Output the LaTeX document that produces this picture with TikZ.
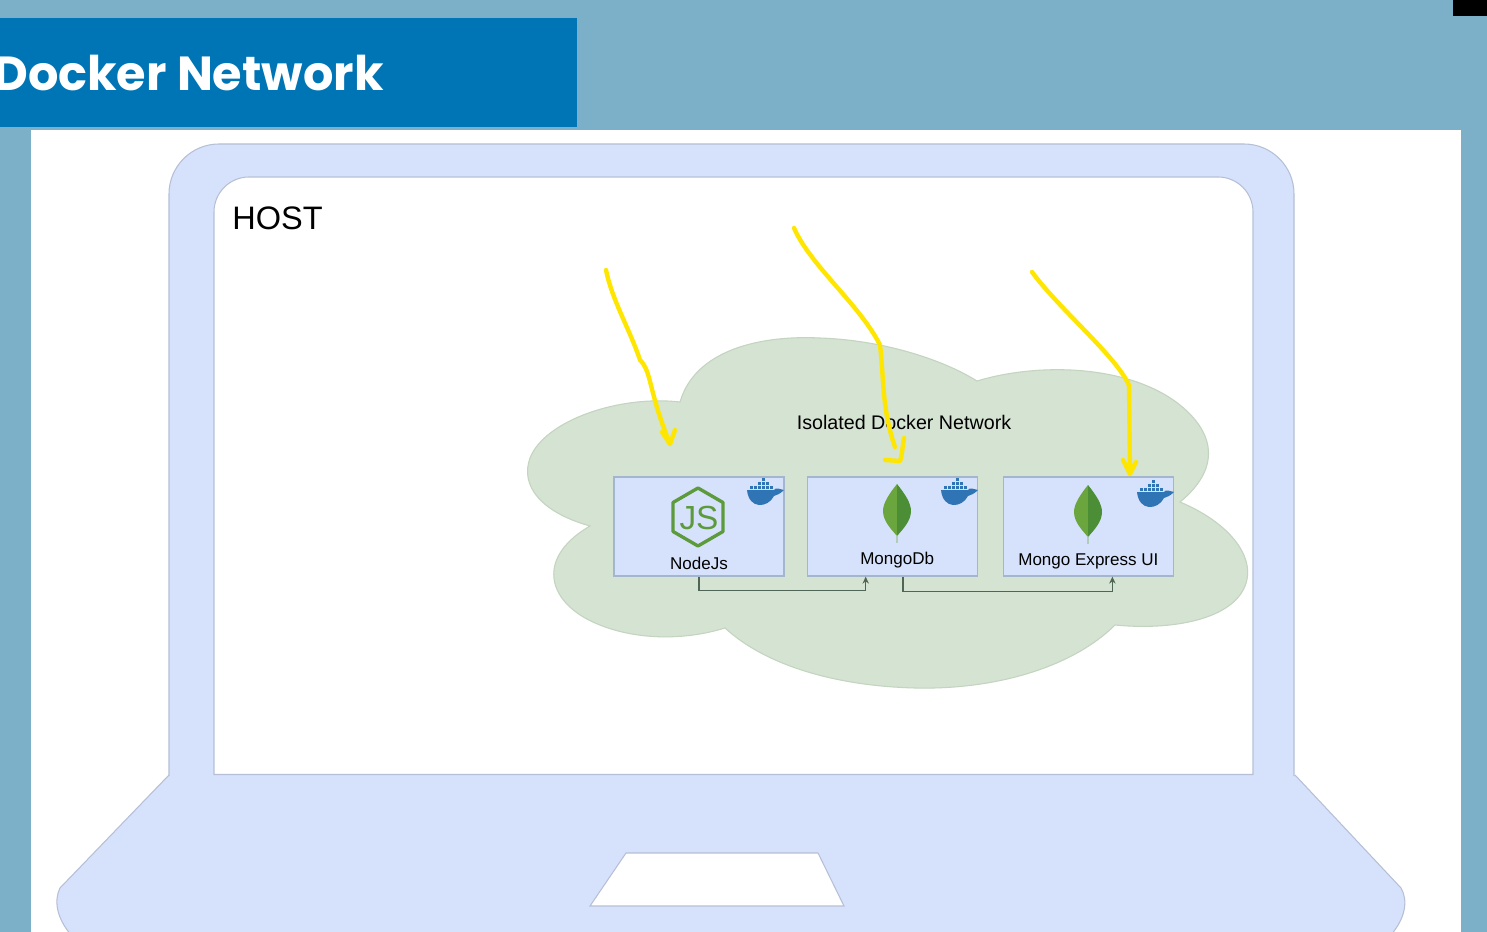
\documentclass[tikz,border=0pt]{standalone}
\usepackage{fontspec}
\setmainfont{Liberation Sans}
\newfontfamily\titlefont{Poppins}
\usepackage{tikz}
\usetikzlibrary{arrows.meta, positioning}
\definecolor{pagebg}{HTML}{7CB0C9}
\definecolor{titlebg}{HTML}{0075B5}
\definecolor{laptopfill}{HTML}{D6E2FB}
\definecolor{laptopline}{HTML}{B5BFD6}
\definecolor{cloudfill}{HTML}{D5E3D2}
\definecolor{cloudline}{HTML}{C3D4BF}
\definecolor{boxline}{HTML}{A3B6CE}
\definecolor{whaleblue}{HTML}{2F74B5}
\definecolor{leaflight}{HTML}{6BA53D}
\definecolor{leafdark}{HTML}{4C8E36}
\definecolor{nodegreen}{HTML}{5C9A3C}
\definecolor{linkgreen}{HTML}{4F6556}
\definecolor{penyellow}{HTML}{FFE600}
\newcommand{\dockerwhale}[1]{
  \begin{scope}[shift={#1}]
    \fill[whaleblue] (-18,0) -- (9,0) .. controls (11,-3) and (14,-1) .. (19,0) .. controls (15,4) and (12,5) .. (9,6) .. controls (3,18) and (-16,20) .. (-18,0) -- cycle;
    \foreach \cx in {-15,-11,-7,-3,1,5} \fill[whaleblue] (\cx,-4) rectangle ++(3.4,3.4);
    \foreach \cx in {-7,-3,1} \fill[whaleblue] (\cx,-8) rectangle ++(3.4,3.4);
    \fill[whaleblue] (-3,-12) rectangle ++(3.4,3.4);
  \end{scope}
}
\newcommand{\mongoleaf}[1]{
  \begin{scope}[shift={#1}]
    \fill[leaflight] (0,-27) .. controls (-8,-17) and (-14,-8) .. (-14,0) .. controls (-14,10) and (-6,18) .. (0,25) -- cycle;
    \fill[leafdark] (0,-27) .. controls (8,-17) and (14,-8) .. (14,0) .. controls (14,10) and (6,18) .. (0,25) -- cycle;
    \draw[leaflight!35!laptopfill, line width=0.8pt] (0,25) -- (0,32);
  \end{scope}
}
\begin{document}
\begin{tikzpicture}[
  x=0.02cm, y=-0.02cm,
  laptop/.style={fill=laptopfill, draw=laptopline, line width=0.6pt},
  appbox/.style={rectangle, draw=boxline, line width=0.7pt, fill=laptopfill, minimum width=3.4cm, minimum height=1.98cm, inner sep=0pt},
  boxlabel/.style={inner sep=0pt, font=\fontsize{9.7}{12}\selectfont},
  link/.style={-{Stealth[length=4pt,width=3.6pt]}, draw=linkgreen, line width=0.8pt},
  pen/.style={draw=penyellow, line width=2.5pt, line cap=round, line join=round}
]
  \useasboundingbox (0,0) rectangle (1487,932);
  \clip (0,0) rectangle (1487,932);
  \fill[pagebg] (0,0) rectangle (1487,932);
  \fill[white] (31,130) rectangle (1461,932);
  \fill[black] (1453,0) rectangle (1487,16);
  \fill[titlebg] (0,18) rectangle (577,127);
  \node[anchor=west, inner sep=0pt, text=white, font=\titlefont\bfseries\fontsize{27.2}{32}\selectfont] (title) at (-7,73) {Docker Network};

  \draw[laptop] (169,775) -- (60,888) .. controls (54,900) and (56,918) .. (72,936) -- (1390,936) .. controls (1406,918) and (1408,900) .. (1401,888) -- (1295,775);
  \draw[laptop, fill=laptopfill] (169,776) [rounded corners=1cm] -- (169,144) -- (1294,144) -- (1294,400) [sharp corners] -- (1294,776);
  \fill[laptopfill] (170,770) rectangle (1293,790);
  \draw[laptop, fill=white] (214,774.5) [rounded corners=0.7cm] -- (214,177) -- (1253,177) -- (1253,400) [sharp corners] -- (1253,774.5) -- cycle;
  \draw[laptop, fill=white] (626,853) -- (818,853) -- (844,906) -- (590,906) -- cycle;
  \node[anchor=west, inner sep=0pt, font=\fontsize{18.5}{22}\selectfont] (host) at (232,218) {HOST};

  \draw[fill=cloudfill, draw=cloudline, line width=0.6pt] (680,402)
    .. controls (695,350) and (760,335) .. (820,338)
    .. controls (880,340) and (940,358) .. (977,381)
    .. controls (1040,362) and (1130,365) .. (1180,405)
    .. controls (1217,435) and (1219,470) .. (1180,502)
    .. controls (1235,525) and (1262,565) .. (1240,595)
    .. controls (1220,622) and (1165,630) .. (1115,625)
    .. controls (1075,665) and (1000,690) .. (915,688)
    .. controls (835,686) and (765,665) .. (725,628)
    .. controls (680,642) and (625,640) .. (585,618)
    .. controls (545,595) and (540,555) .. (590,526)
    .. controls (540,512) and (520,485) .. (530,458)
    .. controls (545,420) and (620,395) .. (680,402) -- cycle;
  \node[boxlabel, font=\fontsize{11.2}{13}\selectfont] (cloudname) at (904,422) {Isolated Docker Network};

  \node[appbox] (nodejs) at (699,526.5) {};
  \node[appbox, right=0.44cm of nodejs] (mongodb) {};
  \node[appbox, right=0.5cm of mongodb] (express) {};
  \node[boxlabel, above=0.14cm of nodejs.south] (nodejsname) {NodeJs};
  \node[boxlabel, above=0.16cm of mongodb.south, xshift=0.1cm] (mongodbname) {MongoDb};
  \node[boxlabel, above=0.14cm of express.south] (expressname) {Mongo Express UI};

  \draw[nodegreen, line width=1.9pt, line join=round] (698,488) -- (723,502.5) -- (723,531.5) -- (698,546) -- (673,531.5) -- (673,502.5) -- cycle;
  \node[inner sep=0pt, text=nodegreen, font=\fontsize{19}{22}\selectfont] (jsmark) at (699,518) {JS};
  \mongoleaf{(897,511)}
  \mongoleaf{(1088,512)}
  \dockerwhale{(765,490)}
  \dockerwhale{(959,490)}
  \dockerwhale{(1155,492)}

  \draw[link] (nodejs.south) -- ++(0,14) -| ([xshift=-0.53cm]mongodb.south);
  \draw[link] ([xshift=0.22cm]mongodb.south) -- ++(0,15) -| ([xshift=0.48cm]express.south);

  \coordinate (penaa) at (606,270);
  \coordinate (penab) at (670,444);
  \coordinate (penba) at (794,228);
  \coordinate (penbb) at (895,447);
  \coordinate (penca) at (1032,272);
  \coordinate (pencb) at (1130,474);
  \draw[pen] (penaa) .. controls (612,300) and (630,330) .. (640,360) .. controls (652,372) and (648,390) .. (penab) -- ++(5,-14) (penab) -- ++(-8,-12);
  \draw[pen] (penba) .. controls (810,265) and (860,305) .. (880,345) .. controls (884,380) and (882,410) .. (penbb);
  \draw[pen] (904,438) .. controls (902,450) and (902,456) .. (900,461) -- (885,460);
  \draw[pen] (penca) .. controls (1060,310) and (1115,355) .. (1129,385) -- (pencb) -- ++(6,-12) (pencb) -- ++(-7,-14);
\end{tikzpicture}
\end{document}
